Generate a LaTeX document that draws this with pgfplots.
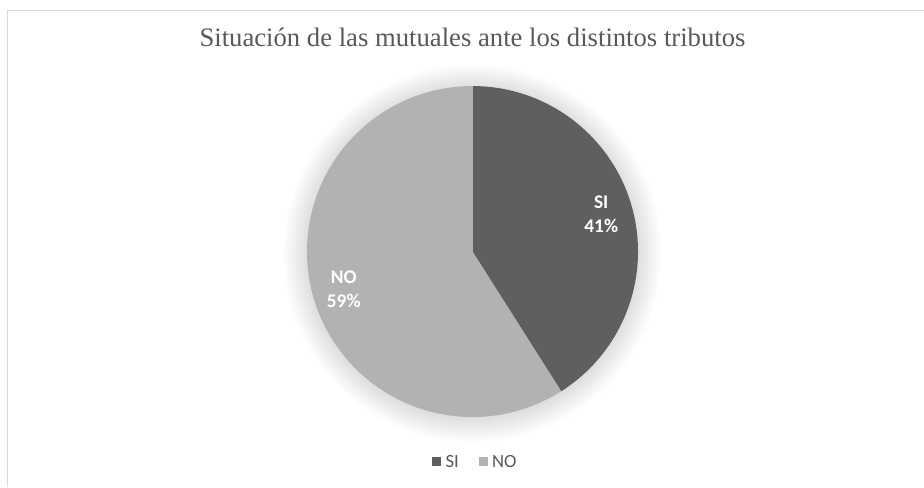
\documentclass[border=0pt]{standalone}
\usepackage{pgfplots}
\pgfplotsset{compat=1.18}
\usepackage{pgfplotstable}
\usepackage{fontspec}
\setmainfont{Liberation Serif}
\newfontfamily\carlito{Carlito}
\definecolor{siC}{HTML}{5F5F5F}
\definecolor{noC}{HTML}{B2B2B2}
\definecolor{txt}{HTML}{595959}
\definecolor{frameC}{HTML}{D9D9D9}
\pgfplotstableread{
label value
SI 41
NO 59
}\piedata
\pgfplotstablegetelem{0}{value}\of\piedata \let\vSI\pgfplotsretval
\pgfplotstablegetelem{1}{value}\of\piedata \let\vNO\pgfplotsretval
\pgfmathsetmacro\aSI{90-3.6*\vSI}
\pgfmathsetmacro\aNO{90+3.6*\vNO}
\pgfmathsetmacro\mSI{90-1.8*\vSI}
\pgfmathsetmacro\mNO{90-3.6*\vSI-1.8*\vNO}
\pgfmathsetmacro\xSI{0.81*cos(\mSI)}
\pgfmathsetmacro\ySI{0.81*sin(\mSI)}
\pgfmathsetmacro\xNO{0.81*cos(\mNO)}
\pgfmathsetmacro\yNO{0.81*sin(\mNO)}
\newcommand\R{124.125pt}
\begin{document}
\begin{tikzpicture}
\begin{axis}[
  hide axis, scale only axis,
  x=124.125pt, y=124.125pt,
  xmin=-2.855, xmax=2.728, ymin=-1.423, ymax=1.520,
  clip=false,
  legend style={at={(axis cs:0.02,-1.272)}, anchor=center, draw=none, fill=none,
    legend columns=2, font=\carlito\fontsize{14}{16}\selectfont, text=txt,
    /tikz/every even column/.append style={column sep=13pt}},
]
\fill[white] (axis cs:-2.855,-1.423) rectangle (axis cs:2.728,1.520);
\draw[frameC, line width=0.75pt] (axis cs:-2.8127,-1.423) -- (axis cs:-2.8127,1.4592) -- (axis cs:2.728,1.4592);
\pgfplotsinvokeforeach{1,...,32}{
  \fill[black, opacity=0.0035] (axis cs:0,-0.01) circle[radius={(1+0.0045*#1)*124.125pt}];
}
\fill[siC] (axis cs:0,0) -- (axis cs:0,1) arc[start angle=90, end angle=\aSI, radius=\R] -- cycle;
\fill[noC] (axis cs:0,0) -- (axis cs:0,1) arc[start angle=90, end angle=\aNO, radius=\R] -- cycle;
\node[align=center, text=white, font=\carlito\bfseries\fontsize{14.5}{18}\selectfont] at (axis cs:\xSI,\ySI) {SI\\\vSI\%};
\node[align=center, text=white, font=\carlito\bfseries\fontsize{14.5}{18}\selectfont] at (axis cs:\xNO,\yNO) {NO\\\vNO\%};
\node[anchor=base, text=txt, font=\fontsize{20}{24}\selectfont] at (axis cs:0,1.2417) {Situación de las mutuales ante los distintos tributos};
\addlegendimage{legend image code/.code={\fill[siC] (0pt,-2.7pt) rectangle (6pt,3.3pt); \path (7.5pt,0pt);}}
\addlegendentry{SI}
\addlegendimage{legend image code/.code={\fill[noC] (0pt,-2.7pt) rectangle (6pt,3.3pt); \path (7.5pt,0pt);}}
\addlegendentry{NO}
\end{axis}
\pgfresetboundingbox
\path (current axis.south west) rectangle (current axis.north east);
\end{tikzpicture}
\end{document}
